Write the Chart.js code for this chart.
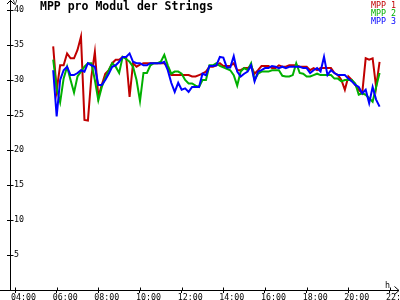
<!DOCTYPE html>
<html>
<head>
<meta charset="utf-8">
<script src="https://cdn.jsdelivr.net/npm/chart.js@4/dist/chart.umd.min.js"></script>
<style>
  html, body { margin: 0; padding: 0; background: #fff; }
  #chart { display: block; }
</style>
</head>
<body>
<canvas id="chart" width="400" height="300"></canvas>
<script>
// sample times (10 min raster) and MPP voltages per module
const times = [
  '05:50', '06:00', '06:10', '06:20', '06:30', '06:40', '06:50', '07:00', '07:10', '07:20', '07:30', '07:40', '07:50',
  '08:00', '08:10', '08:20', '08:30', '08:40', '08:50', '09:00', '09:10', '09:20', '09:30', '09:40', '09:50',
  '10:00', '10:10', '10:20', '10:30', '10:40', '10:50', '11:00', '11:10', '11:20', '11:30', '11:40', '11:50',
  '12:00', '12:10', '12:20', '12:30', '12:40', '12:50', '13:00', '13:10', '13:20', '13:30', '13:40', '13:50',
  '14:00', '14:10', '14:20', '14:30', '14:40', '14:50', '15:00', '15:10', '15:20', '15:30', '15:40', '15:50',
  '16:00', '16:10', '16:20', '16:30', '16:40', '16:50', '17:00', '17:10', '17:20', '17:30', '17:40', '17:50',
  '18:00', '18:10', '18:20', '18:30', '18:40', '18:50', '19:00', '19:10', '19:20', '19:30', '19:40', '19:50',
  '20:00', '20:10', '20:20', '20:30', '20:40', '20:50', '21:00', '21:10', '21:20', '21:30'
]
const mpp1 = [
  34.8, 28.5, 32.1, 32.1, 33.8, 33.1, 33.1, 34.3, 36.2, 24.3, 24.2, 30.5, 34.0,
  27.6, 29.3, 30.9, 31.4, 32.4, 32.9, 32.9, 33.3, 33.3, 27.6, 32.4, 31.9,
  32.2, 32.4, 32.4, 32.4, 32.4, 32.4, 32.4, 32.4, 31.9, 30.7, 30.7, 30.7,
  30.7, 30.7, 30.7, 30.5, 30.5, 30.7, 30.9, 31.2, 31.9, 31.9, 32.1, 32.4,
  32.0, 32.0, 32.0, 32.4, 31.4, 31.4, 31.7, 31.7, 32.0, 30.9, 31.4, 32.0,
  32.0, 32.0, 31.7, 31.7, 32.1, 31.9, 31.9, 32.1, 32.1, 32.1, 31.9, 31.9,
  31.9, 31.4, 31.7, 31.4, 31.7, 31.7, 31.7, 31.7, 31.0, 30.7, 30.0, 28.6,
  30.5, 30.0, 29.3, 28.6, 28.1, 33.1, 32.9, 33.1, 29.0, 32.6
]
const mpp2 = [
  32.9, 28.8, 26.8, 30.2, 31.9, 30.0, 28.2, 30.5, 31.2, 31.9, 32.4, 32.4, 30.0,
  27.1, 29.0, 30.3, 31.4, 32.4, 31.9, 31.0, 33.3, 33.0, 32.6, 31.9, 30.0,
  27.0, 31.0, 31.0, 32.1, 32.4, 32.4, 32.6, 33.6, 32.1, 30.9, 31.2, 31.2,
  30.9, 30.0, 29.5, 29.5, 29.2, 29.0, 30.0, 30.0, 32.1, 32.1, 32.4, 32.0,
  31.8, 31.6, 31.4, 30.7, 29.2, 31.2, 31.7, 31.4, 32.4, 30.0, 30.9, 31.2,
  31.2, 31.2, 31.4, 31.4, 31.4, 30.6, 30.5, 30.5, 30.7, 32.4, 31.0, 30.9,
  30.5, 30.5, 30.7, 30.9, 30.7, 30.7, 30.7, 30.7, 30.2, 30.2, 29.8, 30.0,
  30.0, 30.0, 29.5, 27.9, 28.1, 27.9, 27.4, 26.9, 29.0, 31.0
]
const mpp3 = [
  31.4, 24.8, 30.0, 31.4, 31.9, 30.7, 30.7, 31.0, 31.4, 31.2, 32.4, 32.1, 31.9,
  29.3, 29.3, 30.0, 30.9, 31.9, 32.1, 32.6, 33.3, 33.3, 33.8, 32.6, 32.4,
  32.4, 32.1, 32.1, 32.4, 32.4, 32.4, 32.4, 32.6, 31.4, 29.6, 28.3, 29.6,
  28.6, 28.8, 28.3, 29.0, 29.0, 29.0, 30.9, 30.7, 32.0, 32.0, 32.1, 33.3,
  33.2, 31.8, 31.8, 33.4, 31.2, 30.5, 30.9, 31.2, 32.1, 29.8, 31.2, 31.4,
  31.7, 31.7, 32.0, 31.9, 31.7, 31.9, 31.7, 31.9, 31.9, 31.9, 31.9, 31.7,
  31.7, 31.0, 31.4, 31.7, 31.2, 33.3, 30.7, 31.4, 31.0, 30.7, 30.7, 30.7,
  30.2, 29.8, 29.3, 29.0, 28.1, 28.6, 26.7, 29.0, 27.2, 26.2
]
const seriesLabels = ['MPP 1', 'MPP 2', 'MPP 3']
const seriesColors = ['rgb(192,0,0)', 'rgb(0,176,0)', 'rgb(0,0,255)']
const hourTicks = [4, 6, 8, 10, 12, 14, 16, 18, 20, 22]
const voltTicks = [5, 10, 15, 20, 25, 30, 35, 40]
const chartTitle = 'MPP pro Modul der Strings'
const yUnit = 'V'
const xUnit = 'h'

const MONO = '"DejaVu Sans Mono", monospace'

function toHours(t) {
  const [h, m] = t.split(':').map(Number)
  return h + m / 60
}

function points(values) {
  return values.map((v, i) => ({ x: toHours(times[i]), y: v }))
}

function hourLabel(h) {
  return String(h).padStart(2, '0') + ':00'
}

// arrows, inner tick stubs, title, units and the little legend
const decor = {
  id: 'decor',
  afterDraw(chart) {
    const { ctx, chartArea, scales: { x, y } } = chart
    const ax = chartArea.left + 0.5
    const ay = chartArea.bottom + 0.5
    ctx.save()
    ctx.strokeStyle = '#000'
    ctx.lineWidth = 1
    ctx.beginPath()
    ctx.moveTo(0, ay); ctx.lineTo(399, ay)
    ctx.moveTo(394.5, ay - 4); ctx.lineTo(399, ay); ctx.lineTo(394.5, ay + 4)
    ctx.moveTo(ax, chartArea.top); ctx.lineTo(ax, 0)
    ctx.moveTo(ax - 3.5, 4); ctx.lineTo(ax, 0.5); ctx.lineTo(ax + 3.5, 4)
    hourTicks.forEach(v => {
      const px = Math.round(x.getPixelForValue(v)) + 0.5
      ctx.moveTo(px, ay); ctx.lineTo(px, ay - 3)
    })
    voltTicks.forEach(v => {
      const py = Math.round(y.getPixelForValue(v)) + 0.5
      ctx.moveTo(ax, py); ctx.lineTo(ax + 3, py)
    })
    ctx.stroke()

    ctx.fillStyle = '#000'
    ctx.textBaseline = 'middle'
    ctx.font = 'bold 11.5px ' + MONO
    ctx.fillText(chartTitle, 40, 7.5)
    ctx.font = '7px ' + MONO
    ctx.fillText(yUnit, 13, 3)
    ctx.font = '8.3px ' + MONO
    ctx.fillText(xUnit, 385, 286)

    ctx.textAlign = 'right'
    chart.data.datasets.forEach((ds, i) => {
      ctx.fillStyle = ds.borderColor
      ctx.fillText(ds.label, 396, 5.5 + i * 8)
    })
    ctx.restore()
  }
}

new Chart(document.getElementById('chart'), {
  type: 'line',
  data: {
    datasets: [mpp1, mpp2, mpp3].map((values, i) => ({
      label: seriesLabels[i],
      data: points(values),
      borderColor: seriesColors[i],
      backgroundColor: seriesColors[i],
      borderWidth: 2,
      order: 3 - i
    }))
  },
  options: {
    responsive: false,
    animation: false,
    layout: { padding: { top: 10, right: 2, bottom: 0, left: 0 } },
    elements: {
      point: { radius: 0 },
      line: { tension: 0 }
    },
    plugins: {
      legend: { display: false },
      tooltip: { enabled: false }
    },
    scales: {
      x: {
        type: 'linear',
        min: 4 - 5 / 20.833,
        max: 4 + 383 / 20.833,
        afterBuildTicks: s => { s.ticks = hourTicks.map(v => ({ value: v })) },
        afterFit: s => { s.height = 10; s.paddingLeft = 0; s.paddingRight = 0 },
        grid: { drawOnChartArea: false, tickLength: 3, color: '#000' },
        border: { color: '#000' },
        ticks: {
          autoSkip: false,
          maxRotation: 0,
          align: 'start',
          labelOffset: -4,
          padding: 0,
          color: '#000',
          font: { family: MONO, size: 8.3 },
          callback: v => hourLabel(v)
        }
      },
      y: {
        min: 0,
        max: 40,
        afterBuildTicks: s => { s.ticks = voltTicks.map(v => ({ value: v })) },
        afterFit: s => { s.width = 10; s.paddingTop = 0; s.paddingBottom = 0 },
        grid: { drawOnChartArea: false, tickLength: 3, color: '#000' },
        border: { color: '#000' },
        ticks: {
          mirror: true,
          padding: 4,
          color: '#000',
          font: { family: MONO, size: 8.3 }
        }
      }
    }
  },
  plugins: [decor]
})
</script>
</body>
</html>
